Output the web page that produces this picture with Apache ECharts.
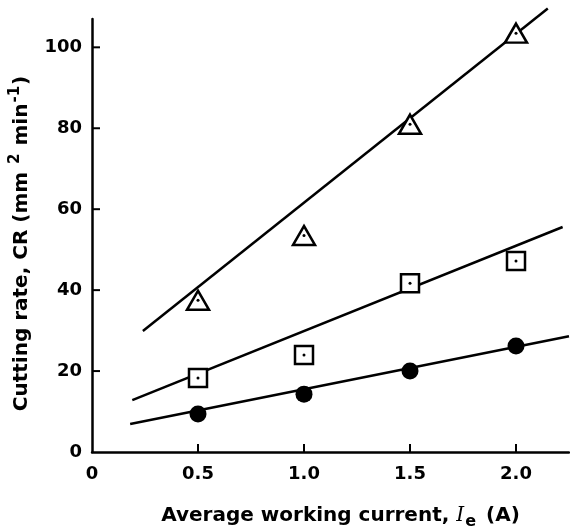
<!DOCTYPE html>
<html>
<head>
<meta charset="utf-8">
<script src="https://cdn.jsdelivr.net/npm/echarts@6/dist/echarts.min.js"></script>
<style>html,body{margin:0;padding:0;background:#fff;}#c{width:570px;height:530px;}</style>
</head>
<body>
<div id="c"></div>
<script>
const currents = [0.5, 1.0, 1.5, 2.0];
const crTriangle = [37.5, 53.5, 81, 103.5];
const crSquare = [18.3, 24, 41.7, 47.2];
const crCircle = [9.4, 14.3, 20, 26.2];
const triFitX = [0.24, 2.15], triFitY = [29.9, 109.6];
const sqFitX = [0.19, 2.22], sqFitY = [12.8, 55.6];
const cirFitX = [0.18, 2.25], cirFitY = [6.9, 28.6];
const xTicks = [0, 0.5, 1.0, 1.5, 2.0];
const yTicks = [0, 20, 40, 60, 80, 100];

const X_MAX = 2.25, Y_MAX = 107;
const pts = (xs, ys) => xs.map((x, i) => [x, ys[i]]);
const FONT = 'DejaVu Sans';
const chart = echarts.init(document.getElementById('c'));
const lineS = (xs, ys) => ({
  type: 'line', data: pts(xs, ys), symbol: 'none', clip: false, silent: true,
  lineStyle: { color: '#000', width: 2.5 }, z: 2
});
// tick marks as short segments (length expressed as a fraction of the axis range)
const tickSeries = [];
yTicks.slice(1).forEach(v => tickSeries.push({
  type: 'line', silent: true, symbol: 'none', clip: false, z: 5,
  data: [[0, v], [X_MAX * 8 / 477, v]], lineStyle: { color: '#000', width: 2 }
}));
xTicks.slice(1).forEach(v => tickSeries.push({
  type: 'line', silent: true, symbol: 'none', clip: false, z: 5,
  data: [[v, 0], [v, Y_MAX * 8 / 433]], lineStyle: { color: '#000', width: 2 }
}));

chart.setOption({
  backgroundColor: '#fff',
  animation: false,
  grid: { left: 92, top: 19, width: 477, height: 433, outerBoundsMode: 'none', containLabel: false },
  xAxis: {
    type: 'value', min: 0, max: X_MAX, interval: 0.5,
    axisLine: { show: true, lineStyle: { color: '#000', width: 2.5 } },
    axisTick: { show: false },
    axisLabel: { showMaxLabel: false, margin: 13, color: '#000', fontFamily: FONT, fontSize: 18, fontWeight: 'bold',
      formatter: v => xTicks.indexOf(v) < 0 ? '' : (v === 0 ? '0' : v.toFixed(1)) },
    splitLine: { show: false },
    name: '{n|Average working current, }{i|I}{s|e}{n| (A)}',
    nameLocation: 'middle', nameGap: 50,
    nameTextStyle: {
      padding: [0, 0, 0, 20],
      rich: {
        n: { fontFamily: FONT, fontSize: 20, fontWeight: 'bold', color: '#000' },
        i: { fontFamily: 'DejaVu Serif', fontStyle: 'italic', fontSize: 20, color: '#000' },
        s: { fontFamily: FONT, fontSize: 16, fontWeight: 'bold', color: '#000', padding: [12, 3, 0, 1] }
      }
    }
  },
  yAxis: {
    type: 'value', min: 0, max: Y_MAX, interval: 20,
    axisLine: { show: true, lineStyle: { color: '#000', width: 2.5 } },
    axisTick: { show: false },
    axisLabel: { showMaxLabel: false, margin: 10, color: '#000', fontFamily: FONT, fontSize: 18, fontWeight: 'bold',
      formatter: v => yTicks.indexOf(v) < 0 ? '' : String(v) },
    splitLine: { show: false },
    name: '{n|Cutting rate, CR (mm }{p|2}{n| min}{p|-1}{n|)}',
    nameLocation: 'middle', nameGap: 57, nameRotate: 90,
    nameTextStyle: {
      padding: [0, 16, 0, 0],
      rich: {
        n: { fontFamily: FONT, fontSize: 20, fontWeight: 'bold', color: '#000' },
        p: { fontFamily: FONT, fontSize: 15, fontWeight: 'bold', color: '#000', padding: [0, 1, 12, 1] }
      }
    }
  },
  series: tickSeries.concat([
    lineS(triFitX, triFitY),
    lineS(sqFitX, sqFitY),
    lineS(cirFitX, cirFitY),
    { type: 'scatter', data: pts(currents, crTriangle), symbol: 'triangle', symbolSize: [22, 19],
      itemStyle: { color: '#fff', borderColor: '#000', borderWidth: 2.5, opacity: 1 }, z: 3 },
    { type: 'scatter', data: pts(currents, crSquare), symbol: 'rect', symbolSize: 18,
      itemStyle: { color: '#fff', borderColor: '#000', borderWidth: 2.5, opacity: 1 }, z: 3 },
    { type: 'scatter', data: pts(currents, crCircle), symbol: 'circle', symbolSize: 17,
      itemStyle: { color: '#000', opacity: 1 }, z: 3 },
    { type: 'scatter', data: pts(currents, crTriangle), symbol: 'circle', symbolSize: 3,
      itemStyle: { color: '#000', opacity: 1 }, z: 4 },
    { type: 'scatter', data: pts(currents, crSquare), symbol: 'circle', symbolSize: 3,
      itemStyle: { color: '#000', opacity: 1 }, z: 4 }
  ])
});
</script>
</body>
</html>
